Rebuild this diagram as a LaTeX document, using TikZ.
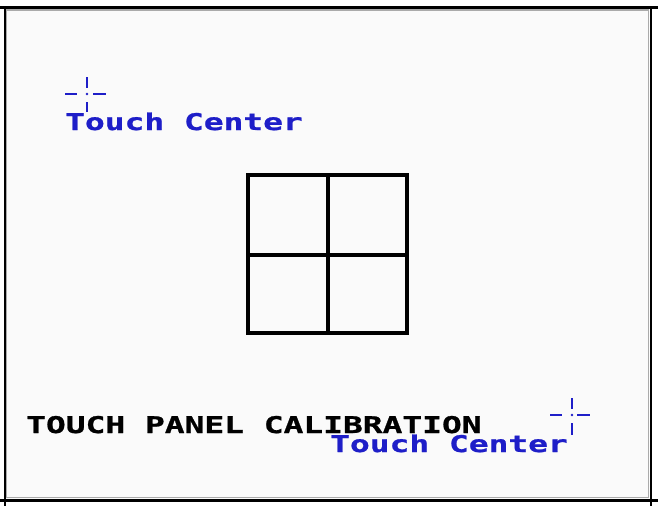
\documentclass[tikz,border=0pt]{standalone}
\usepackage{fontspec}
\newfontfamily\lcdfont{DejaVu Sans Mono}[FakeStretch=1.43, FakeBold=1]
\definecolor{lcdblue}{RGB}{30,30,200}
\definecolor{panelbg}{RGB}{250,250,250}
\definecolor{rimgray}{RGB}{170,170,170}

\begin{document}
\begin{tikzpicture}[x=1pt,y=-1pt]
\tikzstyle{every node}+=[inner sep=0pt]
\tikzstyle{lcd}=[font=\lcdfont\bfseries\fontsize{23}{23}\selectfont, anchor=base west]
\tikzstyle{aim}=[lcdblue, line width=2.5pt]
\useasboundingbox (0,0) rectangle (658,506);
\fill [panelbg] (5,8) rectangle (650,499);
\draw [rimgray, line width=1.5pt] (6.5,10) -- (648.5,10) -- (648.5,497.5) -- (6.5,497.5) -- cycle;
\draw [black, line width=2.5pt] (0,7.5) -- (658,7.5);
\draw [black, line width=3pt] (0,500) -- (658,500);
\draw [black, line width=2pt] (4.5,7.5) -- (4.5,506);
\draw [black, line width=2pt] (651,7.5) -- (651,506);
\draw [black, line width=3.5pt] (248,175) rectangle (407,333);
\draw [black, line width=3.5pt] (328,175) -- (328,333);
\draw [black, line width=3.5pt] (248,255) -- (407,255);
\draw [aim] (65,94) -- (77,94);
\draw [aim] (93,94) -- (106,94);
\draw [aim] (87,77) -- (87,88);
\draw [aim] (87,102) -- (87,112);
\fill [lcdblue] (87,94) circle (1.3);
\draw (65,130) node [lcd, lcdblue] (topcenter) {Touch Center};
\draw (26,433) node [lcd, black] (title) {TOUCH PANEL CALIBRATION};
\draw [aim] (550,415) -- (562,415);
\draw [aim] (577,415) -- (590,415);
\draw [aim] (572,398) -- (572,409);
\draw [aim] (572,423) -- (572,435);
\fill [lcdblue] (572,415) circle (1.3);
\draw (330,452) node [lcd, lcdblue] (bottomcenter) {Touch Center};
\end{tikzpicture}
\end{document}
